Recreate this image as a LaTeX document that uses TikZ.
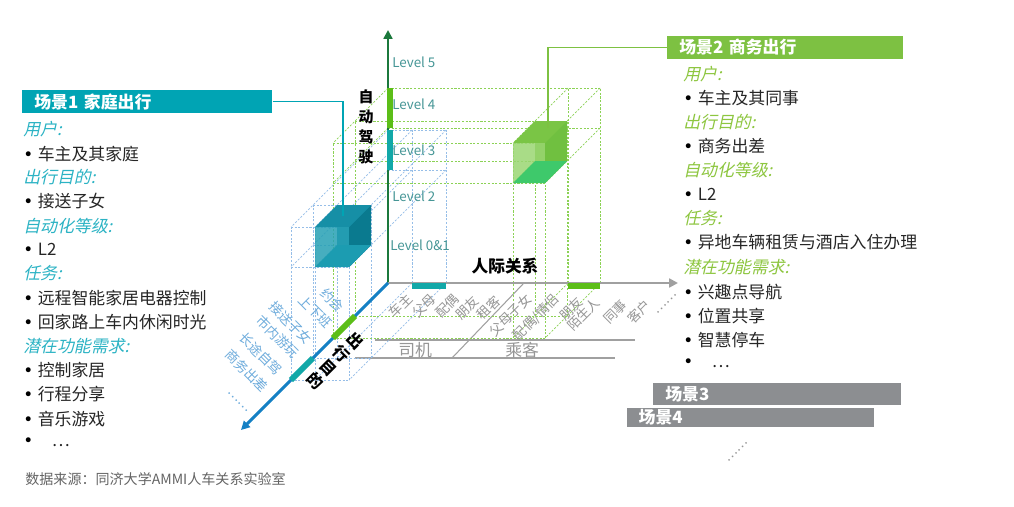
\documentclass[tikz,border=0pt]{standalone}
\usepackage{fontspec}
\setmainfont{Noto Sans CJK SC}
\newfontfamily\slantcjk{Noto Sans CJK SC}[FakeSlant=0.22]
\newfontfamily\symfont{DejaVu Sans}
\usetikzlibrary{arrows.meta}

\definecolor{tealhd}{RGB}{0,164,180}
\definecolor{greenhd}{RGB}{125,193,66}
\definecolor{grayhd}{RGB}{140,142,145}
\definecolor{tealit}{RGB}{43,179,196}
\definecolor{greenit}{RGB}{141,198,63}
\definecolor{bodytxt}{RGB}{38,38,38}
\definecolor{srcgray}{RGB}{100,100,100}
\definecolor{axz}{RGB}{27,120,60}
\definecolor{axx}{RGB}{160,160,160}
\definecolor{axd}{RGB}{20,128,196}
\definecolor{segteal}{RGB}{18,168,168}
\definecolor{seggreen}{RGB}{92,190,24}
\definecolor{lvltxt}{RGB}{70,150,150}
\definecolor{tickblue}{RGB}{110,172,220}
\definecolor{tickgray}{RGB}{150,150,150}
\definecolor{cageblue}{RGB}{150,190,232}
\definecolor{cagegreen}{RGB}{140,210,85}
% cube faces: k back, s side, t top, f front, b bottom
\definecolor{bluek}{RGB}{19,138,160}
\definecolor{blues}{RGB}{10,122,143}
\definecolor{bluet}{RGB}{22,143,166}
\definecolor{bluef}{RGB}{38,160,180}
\definecolor{blueb}{RGB}{28,156,177}
\definecolor{greenk}{RGB}{108,191,58}
\definecolor{greens}{RGB}{112,192,64}
\definecolor{greent}{RGB}{122,197,69}
\definecolor{greenf}{RGB}{154,214,114}
\definecolor{greenb}{RGB}{62,201,107}

\tikzset{hd/.style={anchor=west,text=white,inner xsep=0.24cm,inner ysep=0pt,
minimum height=0.46cm,align=left,font=\fontsize{9.6}{11}\selectfont\bfseries},
cat/.style={anchor=west,inner sep=0pt,font=\fontsize{9.6}{11}\slantcjk},
item/.style={anchor=west,inner sep=0pt,text=bodytxt,font=\fontsize{9.6}{11}\selectfont},
levellbl/.style={anchor=west,inner sep=0pt,text=lvltxt,font=\fontsize{7.6}{9}\selectfont},
dtick/.style={anchor=east,rotate=-45,inner sep=0pt,text=tickblue,font=\fontsize{7.6}{9}\selectfont},
xtick/.style={anchor=east,rotate=45,inner sep=0pt,text=tickgray,font=\fontsize{7.5}{9}\selectfont},
axtitle/.style={inner sep=0pt,font=\fontsize{9.5}{11}\selectfont\bfseries},
axis/.style={line width=1.7pt,-{Triangle[length=5pt,width=5pt]}},
seg/.style={line width=3.4pt},
link/.style={line width=1.1pt},
cage/.style={line width=0.4pt,dash pattern=on 1.2pt off 0.9pt},
bracket/.style={line width=0.6pt,draw=axx}}

\newcommand{\bul}{\makebox[0.29cm][l]{\color{black}\symfont •}}
% lines from a box to the three walls
\newcommand{\drawcage}[7]{%
\foreach \p in {0,#3,#4}{\foreach \q in {0,#5,#6}{\draw[#7] (0,\p,\q) -- (#2,\p,\q);}}
\foreach \p in {0,#1,#2}{\foreach \q in {0,#5,#6}{\draw[#7] (\p,0,\q) -- (\p,#4,\q);}}
\foreach \p in {0,#1,#2}{\foreach \q in {0,#3,#4}{\draw[#7] (\p,\q,0) -- (\p,\q,#6);}}}
\newcommand{\drawcube}[7]{%
\fill[#7k] (#1,#3,#5) -- (#2,#3,#5) -- (#2,#4,#5) -- (#1,#4,#5) -- cycle;
\fill[#7s] (#2,#3,#6) -- (#2,#3,#5) -- (#2,#4,#5) -- (#2,#4,#6) -- cycle;
\fill[#7t] (#1,#4,#6) -- (#2,#4,#6) -- (#2,#4,#5) -- (#1,#4,#5) -- cycle;
\fill[#7f,fill opacity=0.85] (#1,#3,#6) -- (#2,#3,#6) -- (#2,#4,#6) -- (#1,#4,#6) -- cycle;
\fill[#7b] (#1,#3,#6) -- (#2,#3,#6) -- (#2,#3,#5) -- (#1,#3,#5) -- cycle;}

\begin{document}
\begin{tikzpicture}[x=0.02cm,y=-0.02cm]
\useasboundingbox (0,0) rectangle (1014,507);
\fill[white] (0,0) rectangle (1014,507);

% role brackets under the relation axis
\draw[bracket] (375,340) -- (635,340);
\draw[bracket] (355,358) -- (615,358);
\draw[bracket] (452,358) -- (523,284);
\node[item,text=tickgray] (drv) at (398,350) {司机};
\node[item,text=tickgray] (pas) at (505,350) {乘客};

\begin{scope}[shift={(388,283)},x={(0.02cm,0cm)},y={(0cm,0.02cm)},z={(-0.02cm,-0.02cm)}]
\drawcage{24}{58}{113}{153}{75}{97}{cage,draw=cageblue}
\drawcage{180}{212}{155}{195}{33}{55}{cage,draw=cagegreen}
\drawcube{24}{58}{113}{153}{75}{97}{blue}
\drawcube{180}{212}{155}{195}{33}{55}{green}
\coordinate (O) at (0,0,0);
\coordinate (ztip) at (0,253,0);
\coordinate (xtip) at (290,0,0);
\coordinate (dtip) at (0,0,147);
\coordinate (c1top) at (41,153,86);
\coordinate (c2top) at (200,195,40);
\draw[axis,axz] (O) -- (ztip);
\draw[axis,axx] (O) -- (xtip);
\draw[axis,axd] (O) -- (dtip);
\draw[seg,segteal] (2,113,0) -- (2,153,0);
\draw[seg,seggreen] (2,155,0) -- (2,195,0);
\draw[seg,segteal] (24,-3,0) -- (58,-3,0);
\draw[seg,seggreen] (180,-3,0) -- (212,-3,0);
\draw[seg,seggreen] (0,0,33) -- (0,0,55);
\draw[seg,segteal] (0,0,75) -- (0,0,97);
\end{scope}

% scene headers and links
\node[hd,fill=tealhd,text width=4.52cm] (h1) at (22,101.5) {场景1 家庭出行};
\node[hd,fill=greenhd,text width=4.24cm] (h2) at (667,47.5) {场景2 商务出行};
\node[hd,fill=grayhd,text width=4.48cm,minimum height=0.44cm] (h3) at (653,394) {场景3};
\node[hd,fill=grayhd,draw=white,line width=0.8pt,text width=4.48cm,minimum height=0.42cm] (h4) at (626,417.5) {场景4};
\draw[link,tealhd] (h1.east) -| (c1top);
\draw[link,greenhd] (h2.west) -| (c2top);
\node[xtick,anchor=center] (more) at (738,452) {……};

% axis titles
\node[axtitle,align=center,font=\fontsize{8.5}{11.3}\selectfont\bfseries] (zlbl) at (366,127) {自\\动\\驾\\驶};
\node[axtitle] (xlbl) at (505,266) {人际关系};
\node[axtitle,align=center,rotate=-45,font=\fontsize{9}{10.8}\selectfont\bfseries] (dlbl) at (335,361) {出\\行\\目\\的};

% levels
\node[levellbl] (l5) at (392,62) {Level 5};
\node[levellbl] (l4) at (392,104) {Level 4};
\node[levellbl] (l3) at (392,150) {Level 3};
\node[levellbl] (l2) at (392,196) {Level 2};
\node[levellbl] (l0) at (390,245) {Level 0\&1};

% relation ticks
\node[xtick] (r1) at (410,296) {车主};
\node[xtick] (r2) at (434,296) {父母};
\node[xtick] (r3) at (457,296) {配偶};
\node[xtick] (r4) at (477,298) {朋友};
\node[xtick] (r5) at (498,298) {租客};
\node[xtick] (r6) at (529,296) {父母子女};
\node[xtick] (r7) at (557,297) {配偶/情侣};
\node[xtick] (r8) at (581,299) {朋友};
\node[xtick] (r9) at (598,300) {陌生人};
\node[xtick] (r10) at (625,302) {同事};
\node[xtick] (r11) at (649,302) {客户};
\node[xtick,anchor=center] (r12) at (667,304) {……};

% purpose ticks
\node[dtick] (q1) at (342,310) {约会};
\node[dtick] (q2) at (330,326) {上下班};
\node[dtick] (q3) at (310,342) {接送子女};
\node[dtick] (q4) at (297,356) {市内游玩};
\node[dtick] (q5) at (280,373) {长途自驾};
\node[dtick] (q6) at (266,390) {商务出差};
\node[dtick,anchor=center] (q7) at (238,402) {……};

% scene 1 panel
\node[cat,text=tealit] (u1) at (23,129) {用户:};
\node[item] (u1a) at (23,154) {\bul 车主及其家庭};
\node[cat,text=tealit] (p1) at (23,177) {出行目的:};
\node[item] (p1a) at (23,201) {\bul 接送子女};
\node[cat,text=tealit] (a1) at (23,226) {自动化等级:};
\node[item] (a1a) at (23,249) {\bul L2};
\node[cat,text=tealit] (t1) at (23,273) {任务:};
\node[item] (t1a) at (23,298) {\bul 远程智能家居电器控制};
\node[item] (t1b) at (23,322) {\bul 回家路上车内休闲时光};
\node[cat,text=tealit] (n1) at (23,346) {潜在功能需求:};
\node[item] (n1a) at (23,370) {\bul 控制家居};
\node[item] (n1b) at (23,394) {\bul 行程分享};
\node[item] (n1c) at (23,419) {\bul 音乐游戏};
\node[item] (n1d) at (23,442) {\bul\hspace{0.28cm}…};
\node[item,text=srcgray,font=\fontsize{8}{9}\selectfont] (src) at (25,479) {数据来源：同济大学AMMI人车关系实验室};

% scene 2 panel
\node[cat,text=greenit] (u2) at (683,74) {用户:};
\node[item] (u2a) at (683,98) {\bul 车主及其同事};
\node[cat,text=greenit] (p2) at (683,122) {出行目的:};
\node[item] (p2a) at (683,146) {\bul 商务出差};
\node[cat,text=greenit] (a2) at (683,170) {自动化等级:};
\node[item] (a2a) at (683,194) {\bul L2};
\node[cat,text=greenit] (t2) at (683,218) {任务:};
\node[item] (t2a) at (683,242) {\bul 异地车辆租赁与酒店入住办理};
\node[cat,text=greenit] (n2) at (683,267) {潜在功能需求:};
\node[item] (n2a) at (683,292) {\bul 兴趣点导航};
\node[item] (n2b) at (683,316) {\bul 位置共享};
\node[item] (n2c) at (683,340) {\bul 智慧停车};
\node[item] (n2d) at (683,363) {\bul\hspace{0.28cm}…};
\end{tikzpicture}
\end{document}
